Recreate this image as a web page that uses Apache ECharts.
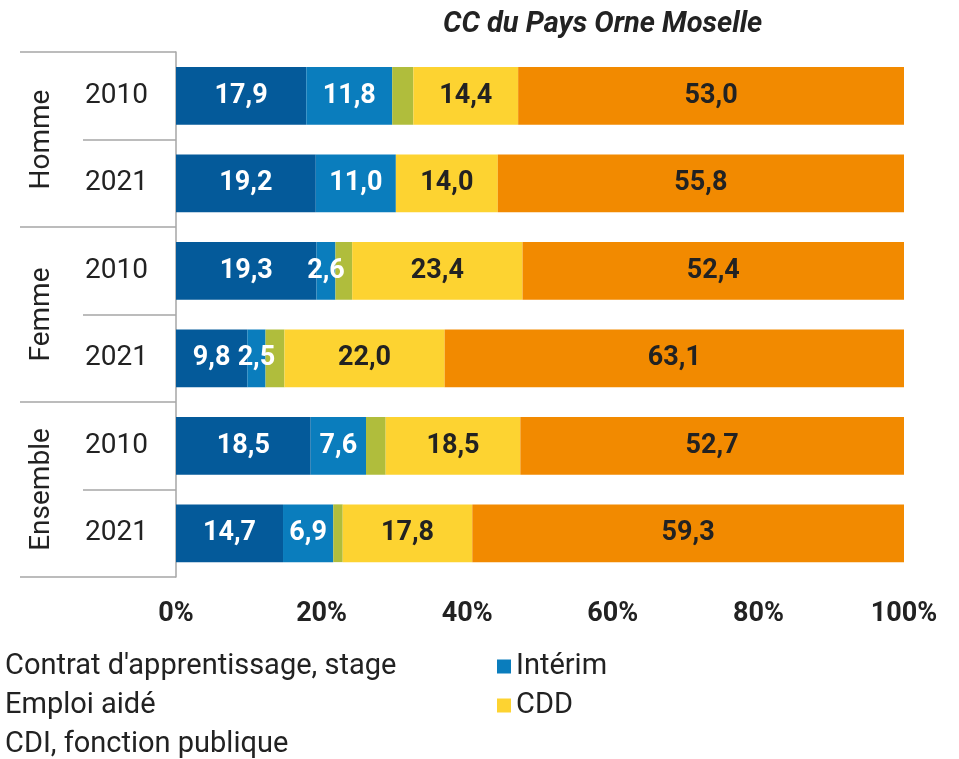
<!DOCTYPE html>
<html>
<head>
<meta charset="utf-8">
<script src="https://cdn.jsdelivr.net/npm/echarts@6/dist/echarts.min.js"></script>
<style>
  html, body { margin: 0; padding: 0; background: #fff; }
  #chart { width: 959px; height: 759px; }
</style>
</head>
<body>
<div id="chart"></div>
<script>
// Rows, top to bottom
const groups = ['Homme', 'Femme', 'Ensemble'];
const years = ['2010', '2021', '2010', '2021', '2010', '2021'];

// Shares (%) per contract type, one value per row
const apprentissage = [17.9, 19.2, 19.3, 9.8, 18.5, 14.7];
const interim       = [11.8, 11.0, 2.6, 2.5, 7.6, 6.9];
const emploiAide    = [2.9, 0.0, 2.3, 2.6, 2.7, 1.3];
const cdd           = [14.4, 14.0, 23.4, 22.0, 18.5, 17.8];
const cdi           = [53.0, 55.8, 52.4, 63.1, 52.7, 59.3];

const xTicks = [0, 20, 40, 60, 80, 100];

const FONT = 'Roboto, "Noto Sans", sans-serif';
const GREY_LINE = '#a6a6a6';
const fmt = v => v.toFixed(1).replace('.', ',');

function barLabel(color) {
  return {
    show: true,
    position: 'inside',
    color: color,
    fontFamily: FONT,
    fontWeight: 'bold',
    fontSize: 27,
    formatter: p => (p.value > 0 ? fmt(p.value) : '')
  };
}

function series(name, data, color, label) {
  return {
    name: name,
    type: 'bar',
    stack: 'total',
    barWidth: '66%',
    yAxisIndex: 0,
    data: data,
    itemStyle: { color: color },
    label: label || { show: false },
    emphasis: { disabled: true }
  };
}

const chart = echarts.init(document.getElementById('chart'), null, { renderer: 'canvas' });

chart.setOption({
  animation: false,
  title: {
    text: 'CC du Pays Orne Moselle',
    left: 443,
    top: 10,
    padding: 0,
    textStyle: { fontFamily: FONT, fontSize: 29, fontWeight: 'bold', fontStyle: 'italic', color: '#222' }
  },
  grid: { left: 176, right: 55, top: 52, bottom: 182, containLabel: false },
  xAxis: {
    type: 'value',
    min: xTicks[0],
    max: xTicks[xTicks.length - 1],
    interval: xTicks[1] - xTicks[0],
    axisLine: { show: false },
    axisTick: { show: false },
    splitLine: { show: false },
    axisLabel: {
      formatter: '{value}%',
      margin: 24,
      fontFamily: FONT,
      fontWeight: 'bold',
      fontSize: 27,
      color: '#222'
    }
  },
  yAxis: [
    {
      type: 'category',
      data: years,
      inverse: true,
      position: 'left',
      axisLine: { show: true, lineStyle: { color: GREY_LINE, width: 1.5 } },
      axisTick: { show: true, length: 93, lineStyle: { color: GREY_LINE, width: 1.5 } },
      axisLabel: { margin: 28, fontFamily: FONT, fontSize: 28, color: '#222' }
    },
    {
      type: 'category',
      data: groups,
      inverse: true,
      position: 'left',
      axisLine: { show: false },
      axisTick: { show: true, length: 156, lineStyle: { color: GREY_LINE, width: 1.5 } },
      axisLabel: { rotate: 90, margin: 120, fontFamily: FONT, fontSize: 28, color: '#222' }
    }
  ],
  legend: [
    {
      data: ['Contrat d\'apprentissage, stage', 'Emploi aidé', 'CDI, fonction publique'],
      orient: 'vertical',
      left: 0,
      top: 647,
      height: 120,
      padding: 0,
      itemWidth: 0,
      itemHeight: 0,
      itemGap: 0,
      selectedMode: false,
      textStyle: { fontFamily: FONT, fontSize: 29, color: '#222', lineHeight: 39 }
    },
    {
      data: ['Intérim', 'CDD'],
      orient: 'vertical',
      left: 497,
      top: 647,
      height: 120,
      padding: 0,
      icon: 'rect',
      itemWidth: 14,
      itemHeight: 14,
      itemGap: 0,
      selectedMode: false,
      textStyle: { fontFamily: FONT, fontSize: 29, color: '#222', lineHeight: 39 }
    }
  ],
  series: [
    series('Contrat d\'apprentissage, stage', apprentissage, '#045a9a', barLabel('#ffffff')),
    series('Intérim', interim, '#0a7dbd', barLabel('#ffffff')),
    series('Emploi aidé', emploiAide, '#b0bd3c'),
    series('CDD', cdd, '#fdd331', barLabel('#222222')),
    series('CDI, fonction publique', cdi, '#f28a00', barLabel('#222222'))
  ]
});
</script>
</body>
</html>
